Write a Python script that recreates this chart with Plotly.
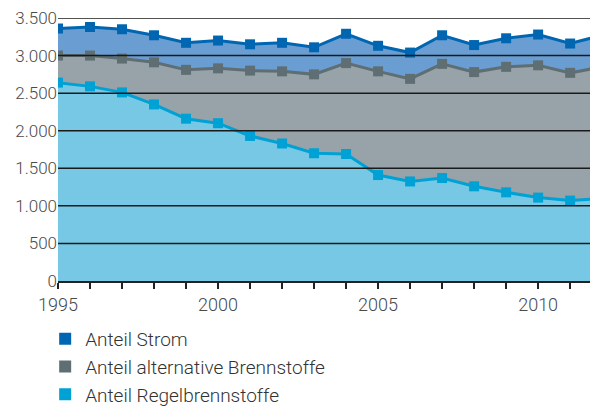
import plotly.graph_objects as go

years = list(range(1995, 2013))
regel = [2640, 2590, 2510, 2350, 2160, 2100, 1930, 1830, 1700, 1690, 1410, 1325, 1370, 1260, 1180, 1110, 1070, 1100]
alternativ = [360, 410, 450, 560, 650, 730, 870, 960, 1050, 1210, 1380, 1365, 1520, 1520, 1670, 1760, 1700, 1750]
strom = [360, 380, 390, 360, 360, 370, 350, 380, 360, 390, 340, 350, 380, 360, 380, 410, 390, 420]

names = ["Anteil Strom", "Anteil alternative Brennstoffe", "Anteil Regelbrennstoffe"]
tick_years = list(range(1995, 2013))
tick_text = [str(y) if y % 5 == 0 else "" for y in tick_years]
y_ticks = [0, 500, 1000, 1500, 2000, 2500, 3000, 3500]

FONT = "Roboto, sans-serif"

# page body has an 8px default margin, so the figure is sized to fit the window
W, H = 590, 398
TOP = 10
PAPER_H = H - TOP

fig = go.Figure()
series = [
    (regel, names[2], "#00a2d5", "#76c8e4"),
    (alternativ, names[1], "#5f6e72", "#97a3a8"),
    (strom, names[0], "#0066b2", "#6a9ed2"),
]
for vals, nm, lc, fc in series:
    fig.add_trace(go.Scatter(
        x=years, y=vals, name=nm, stackgroup="one", mode="lines+markers",
        line=dict(color=lc, width=3), fillcolor=fc,
        marker=dict(symbol="square", size=10, color=lc),
        showlegend=False,
    ))

for nm, lc in [(names[0], "#0066b2"), (names[1], "#5f6e72"), (names[2], "#00a2d5")]:
    fig.add_trace(go.Scatter(
        x=[None], y=[None], name=nm, mode="markers",
        marker=dict(symbol="square", size=15, color=lc),
    ))

# horizontal grid lines drawn above the filled areas
for v in y_ticks[1:]:
    fig.add_shape(type="line", xref="x domain", yref="y", x0=0, x1=1, y0=v, y1=v,
                  line=dict(color="#1a1a1a", width=1.5), layer="above")

fig.update_layout(
    width=W, height=H,
    margin=dict(l=0, r=0, t=TOP, b=0, autoexpand=False),
    plot_bgcolor="white", paper_bgcolor="white",
    separators=",.",
    font=dict(family=FONT, size=16, color="#4a4a4a"),
    showlegend=True,
    legend=dict(
        x=0.063, y=86 / PAPER_H, xanchor="left", yanchor="top",
        traceorder="normal",
        font=dict(size=19, color="#333333", family=FONT, weight=300),
        itemsizing="constant", tracegroupgap=0,
        bgcolor="rgba(0,0,0,0)",
    ),
)
fig.update_xaxes(
    domain=[50 / W, 1], automargin=False,
    range=[1995, 2011.87], tickmode="array", tickvals=tick_years, ticktext=tick_text,
    ticks="outside", ticklen=6, tickwidth=1.5, tickcolor="#222",
    showline=True, linecolor="#222", linewidth=2, showgrid=False, zeroline=False,
    tickfont=dict(size=18, color="#4a4a4a", weight=300), layer="above traces",
)
fig.update_yaxes(
    domain=[125 / PAPER_H, 1], automargin=False,
    range=[0, 3500], tickmode="array", tickvals=y_ticks, tickformat=",d",
    showgrid=False, zeroline=False, showline=False, ticklabeloverflow="allow",
    ticks="", tickfont=dict(size=17, color="#4a4a4a", weight=300),
)
fig.write_html("out.html")
